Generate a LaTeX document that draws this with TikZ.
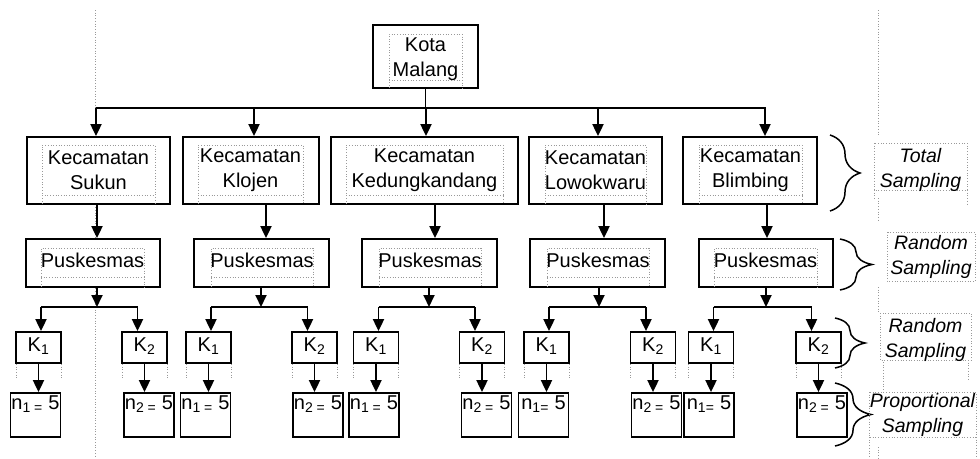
\documentclass[tikz,border=0pt]{standalone}
\usepackage{fontspec}
\setmainfont{Liberation Sans}
\usetikzlibrary{arrows.meta,decorations.pathreplacing}
\begin{document}
\begin{tikzpicture}[x=1pt,y=-1pt,
  box/.style={draw, fill=white, line width=1.8pt, inner sep=0pt},
  frm/.style={draw=gray!80, dotted, line width=0.7pt},
  arr/.style={line width=1.9pt, -{Triangle[width=11pt,length=12pt]}},
  conn/.style={line width=1.9pt},
  lab/.style={font=\fontsize{20}{25.5}\selectfont, align=center, inner sep=0pt},
  ilab/.style={font=\fontsize{19.5}{25}\selectfont\itshape, align=center, inner sep=0pt},
  br/.style={decorate, decoration={brace, amplitude=#1}, line width=1.5pt}]
\useasboundingbox (0,0) rectangle (980,458);

% background dotted guide lines
\draw[frm] (95,10) -- (95,458);
\draw[frm] (878,10) -- (878,135);
\draw[frm] (878,198) -- (878,222);
\draw[frm] (878,287) -- (878,312);
\draw[frm] (883,362) -- (883,392);
\draw[frm] (878,447) -- (878,458);

% Kota Malang
\node[box, minimum width=105, minimum height=63] (kota) at (425.5,56.5) {};
\draw[frm] (389,88) -- (389,34) -- (462,34) -- (462,88);
\draw[frm] (389,80) -- (462,80);
\node[lab] (kotat) at (425.5,59) {Kota\\Malang};

% top distribution line
\coordinate (h) at (425.5,108);
\coordinate (hl) at (96,108);
\coordinate (hr) at (766,108);
\draw[conn] (kota.south) -- (h);
\draw[conn] (hl) -- (hr);

% Kecamatan boxes
\node[box, minimum width=143, minimum height=67] (kc1) at (98.5,170.5) {};
\node[box, minimum width=136, minimum height=67] (kc2) at (251,170.5) {};
\node[box, minimum width=187, minimum height=67] (kc3) at (424.5,170.5) {};
\node[box, minimum width=133, minimum height=67] (kc4) at (595.5,170.5) {};
\node[box, minimum width=134, minimum height=67] (kc5) at (750,170.5) {};
\foreach \l/\r in {42/155,198/303,346/503,545/646,699/802}{
  \draw[frm] (\l,204) -- (\l,145) -- (\r,145) -- (\r,204);
  \draw[frm] (\l,195) -- (\r,195);
}
\node[lab] (kct1) at (98.5,170) {Kecamatan\\Sukun};
\node[lab] (kct2) at (250.5,170) {Kecamatan\\Klojen};
\node[lab] (kct3) at (424.5,170) {Kecamatan\\Kedungkandang};
\node[lab] (kct4) at (595.5,170) {Kecamatan\\Lowokwaru};
\node[lab] (kct5) at (750.5,170) {Kecamatan\\Blimbing};

\foreach \i/\x in {1/96,2/254,3/426,4/598,5/765}{
  \coordinate (t\i) at (\x,108);
  \draw[arr] (t\i) -- (t\i |- kc\i.north);
}

% Puskesmas boxes
\node[box, minimum width=134, minimum height=48] (pk1) at (93,263) {};
\node[box, minimum width=135, minimum height=48] (pk2) at (261.5,263) {};
\node[box, minimum width=135, minimum height=48] (pk3) at (429.5,263) {};
\node[box, minimum width=135, minimum height=48] (pk4) at (597.5,263) {};
\node[box, minimum width=134, minimum height=48] (pk5) at (766,263) {};
\foreach \l/\r in {41/144,211/313,379/481,547/649,714/817}{
  \draw[frm] (\l,287) -- (\l,248) -- (\r,248) -- (\r,287);
  \draw[frm] (\l,277) -- (\r,277);
}
\foreach \i/\x in {1/92.5,2/262,3/430,4/598,5/765.5}{
  \node[lab] (pkt\i) at (\x,260) {Puskesmas};
}

\foreach \i/\x in {1/97,2/266,3/435,4/604,5/767}{
  \coordinate (v\i) at (\x,0);
  \draw[arr] (kc\i.south -| v\i) -- (pk\i.north -| v\i);
}

% K and n boxes
\foreach \i/\jx/\ka/\kb/\na/\nb/\nta in {
  1/97/38.5/144.5/35.5/149/{n\textsubscript{1 =} 5},
  2/261/208.5/314.5/205.5/318/{n\textsubscript{1 =} 5},
  3/429/376/482/374/486.5/{n\textsubscript{1 =} 5},
  4/599/546.5/653/543.5/656.5/{n\textsubscript{1=} 5},
  5/766/711/818.5/709/822/{n\textsubscript{1=} 5}}{
  \node[box, minimum width=45, minimum height=31] (ka\i) at (\ka,347.5) {};
  \node[box, minimum width=45, minimum height=31] (kb\i) at (\kb,347.5) {};
  \node[lab] (kat\i) at (\ka,346) {K\textsubscript{1}};
  \node[lab] (kbt\i) at (\kb,346) {K\textsubscript{2}};
  \draw[frm] ([xshift=-22.5pt]ka\i.south) -- ++(0,14);
  \draw[frm] ([xshift=22.5pt]ka\i.south) -- ++(0,14);
  \draw[frm] ([xshift=-22.5pt]kb\i.south) -- ++(0,14);
  \draw[frm] ([xshift=22.5pt]kb\i.south) -- ++(0,14);
  \node[box, minimum width=50, minimum height=44] (na\i) at (\na,415) {};
  \node[box, minimum width=50, minimum height=44] (nb\i) at (\nb,415) {};
  \node[lab, anchor=center] (nat\i) at (\na,404) {\nta};
  \node[lab, anchor=center] (nbt\i) at (\nb,404) {n\textsubscript{2 =} 5};
  \coordinate (j\i) at (\jx,307);
  \coordinate (ea\i) at ([xshift=2.5pt]ka\i.north);
  \coordinate (eb\i) at ([xshift=-7pt]kb\i.north);
  \draw[arr] (pk\i.south -| j\i) -- (j\i);
  \draw[conn] (ea\i |- j\i) -- (eb\i |- j\i);
  \draw[arr] (ea\i |- j\i) -- (ea\i);
  \draw[arr] (eb\i |- j\i) -- (eb\i);
  \draw[arr] (ka\i.south) -- (ka\i.south |- na\i.north);
  \draw[arr] (kb\i.south) -- (kb\i.south |- nb\i.north);
}

% braces
\draw[br=30pt] (830,135) -- (830,211);
\draw[br=32pt] (840,239) -- (840,290);
\draw[br=30pt] (835,318) -- (835,368);
\draw[br=36pt] (835,383) -- (835,446);

% right labels
\draw[frm] (874,143) rectangle (967,190);
\draw[frm] (874,190) -- (874,200);
\draw[frm] (967,190) -- (967,205);
\node[ilab] (ts) at (920.5,169.5) {Total\\Sampling};

\draw[frm] (887,232) rectangle (975,281);
\node[ilab] (rs1) at (931,256.5) {Random\\Sampling};

\draw[frm] (880,313) rectangle (971,360);
\draw[frm] (968,360) -- (968,380);
\node[ilab] (rs2) at (925.5,339.5) {Random\\Sampling};

\draw[frm] (869,392) rectangle (976,437);
\draw[frm] (869,437) -- (869,458);
\draw[frm] (976,437) -- (976,458);
\node[ilab] (ps) at (922.5,415) {Proportional\\Sampling};
\end{tikzpicture}
\end{document}
